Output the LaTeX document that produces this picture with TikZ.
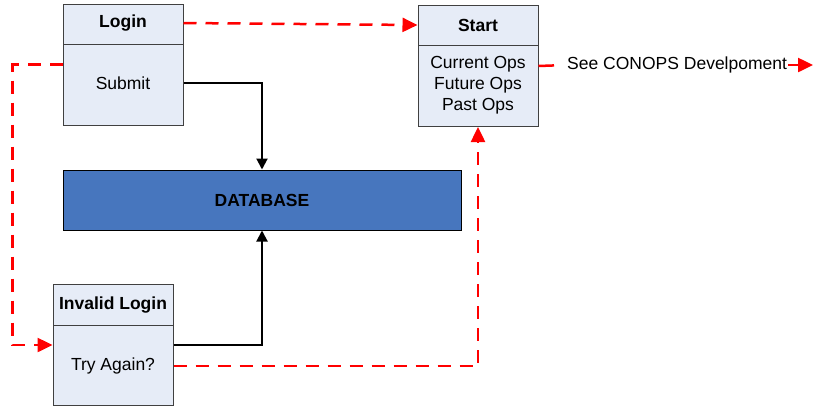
\documentclass[tikz,border=0pt]{standalone}
\usepackage{fontspec}
\setmainfont{Liberation Sans}
\usetikzlibrary{positioning,arrows.meta}
\definecolor{boxfill}{RGB}{230,236,247}
\definecolor{boxline}{RGB}{64,64,64}
\definecolor{dbblue}{RGB}{71,118,190}
\newcommand{\diagfont}{\fontsize{17.5}{21}\selectfont}
\tikzset{
	box/.style={draw=boxline, fill=boxfill, line width=1pt, minimum width=120pt, minimum height=121pt, inner sep=0pt},
	hdr/.style={font=\diagfont\bfseries, inner sep=1pt},
	txt/.style={inner sep=1pt, align=center},
	redline/.style={draw=red, line width=2.5pt, dash pattern=on 13pt off 9pt},
	blackline/.style={draw=black, line width=2pt}
}
\begin{document}
\begin{tikzpicture}[x=1pt, y=-1pt, font=\diagfont, line join=miter,
	>={Triangle[length=15pt,width=14pt]}]
			\useasboundingbox (0,0) rectangle (814,408);
			\def\bw{120}
			% boxes
			\node[box] (login) at (123,64.5) {};
			\draw[boxline, line width=1pt] (63,44)--(63+\bw,44);
			\node[hdr] (loginhdr) at (123,23) {Login};
			\node[txt] (submit) at (123,83) {Submit};
			\node[box] (start) at (478,66) {};
			\draw[boxline, line width=1pt] (418,45)--(418+\bw,45);
			\node[hdr] (starthdr) at (478,25) {Start};
			\node[txt] (ops) at (478,85) {Current Ops\\Future Ops\\Past Ops};
			\node[box] (invalid) at (113,345) {};
			\draw[boxline, line width=1pt] (53,325)--(53+\bw,325);
			\node[hdr] (invalidhdr) at (113,305) {Invalid Login};
			\node[txt] (again) at (113,366) {Try Again?};
			\node[draw=black, fill=dbblue, line width=1pt, minimum width=398pt, minimum height=60pt, font=\diagfont\bfseries] (db) at (262,200) {DATABASE};
			\node[txt, anchor=west] (conops) at (566,65) {See CONOPS Develpoment};
			\coordinate (conopsend) at (813,65);
			% connectors
			\draw[blackline, ->, >={Triangle[length=11pt,width=11pt]}] (submit -| login.east) -| (db.north);
			\draw[blackline, ->, >={Triangle[length=11pt,width=11pt]}] (invalid.east) -| (db.south);
			\draw[redline, ->] (loginhdr -| login.east) -- (starthdr -| start.west);
			\draw[redline, ->] (login.west) -- ++(-50,0) |- (invalid.west);
			\draw[redline, ->] (again -| invalid.east) -| (start.south);
			\draw[red, line width=2.5pt, shorten >=12pt] (start.east) -- (conops.west);
			\draw[red, line width=2.5pt, ->] (conops.east) -- (conopsend);
		\end{tikzpicture}
\end{document}
